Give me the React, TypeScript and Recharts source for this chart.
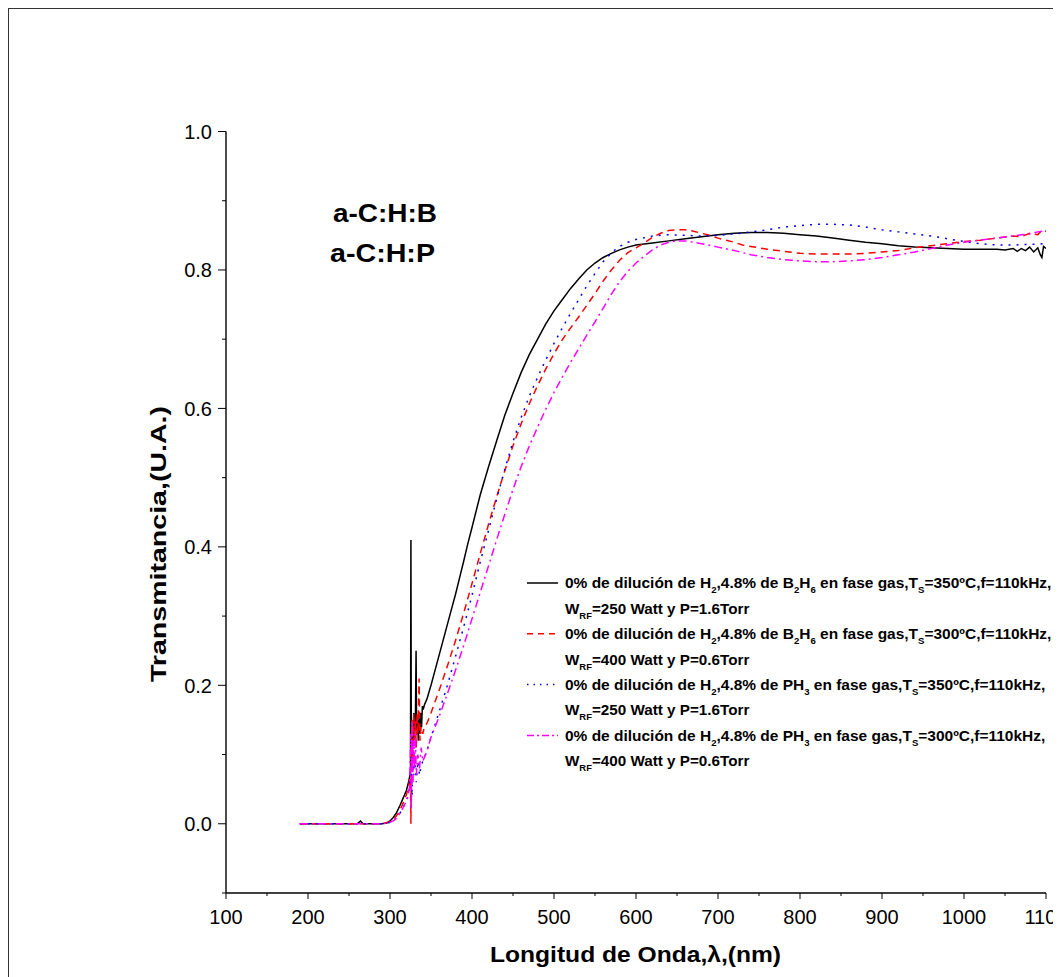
import React from 'react';
import { LineChart, Line, XAxis, YAxis, Legend, Customized } from 'recharts';

const FONT = "'Liberation Sans', Arial, Helvetica, sans-serif";

// ---- axis ticks ----
const X_TICKS = [100, 150, 200, 250, 300, 350, 400, 450, 500, 550, 600, 650, 700, 750, 800, 850, 900, 950, 1000, 1050, 1100];
const X_LABELED = [100, 200, 300, 400, 500, 600, 700, 800, 900, 1000, 1100];
const Y_TICKS = [-0.1, 0, 0.1, 0.2, 0.3, 0.4, 0.5, 0.6, 0.7, 0.8, 0.9, 1.0];
const Y_LABELED = [0, 0.2, 0.4, 0.6, 0.8, 1.0];

// ---- series (wavelength nm, transmittance) ----
const B2H6_350: [number, number][] = [
  [190, 0], [200, 0], [220, 0], [240, 0], [260, 0], [264, 0.004], [267, 0], [280, 0], [290, 0], [296, 0.001],
  [300, 0.004], [304, 0.009], [308, 0.016], [312, 0.026], [316, 0.037], [320, 0.048], [323, 0.062], [325, 0.075],
  [325.5, 0.41], [326, 0.1], [327, 0.14], [328, 0.12], [329, 0.16], [330, 0.13], [331, 0.15], [331.8, 0.25],
  [332.5, 0.13], [333.5, 0.15], [334.5, 0.12], [335.5, 0.155], [336.5, 0.13], [337.5, 0.16], [338.5, 0.14],
  [339.5, 0.17], [340.5, 0.165], [342, 0.172], [345, 0.18], [350, 0.2], [355, 0.222], [360, 0.244], [365, 0.266],
  [370, 0.288], [375, 0.31], [380, 0.332], [385, 0.356], [390, 0.38], [395, 0.405], [400, 0.428], [410, 0.475],
  [420, 0.515], [430, 0.553], [440, 0.59], [450, 0.622], [460, 0.652], [470, 0.678], [480, 0.7], [490, 0.722],
  [500, 0.741], [510, 0.757], [520, 0.773], [530, 0.787], [540, 0.8], [550, 0.81], [560, 0.818], [570, 0.824],
  [580, 0.829], [590, 0.833], [600, 0.836], [620, 0.839], [640, 0.842], [660, 0.845], [680, 0.848], [700, 0.851],
  [720, 0.853], [740, 0.854], [760, 0.854], [780, 0.853], [800, 0.851], [820, 0.849], [840, 0.846], [860, 0.843],
  [880, 0.84], [900, 0.838], [920, 0.835], [940, 0.833], [960, 0.832], [980, 0.831], [1000, 0.83], [1020, 0.83],
  [1040, 0.83], [1050, 0.829], [1060, 0.831], [1065, 0.827], [1070, 0.831], [1075, 0.828], [1080, 0.833],
  [1085, 0.826], [1090, 0.832], [1093, 0.822], [1095, 0.818], [1097, 0.834], [1100, 0.831],
];

const B2H6_300: [number, number][] = [
  [190, 0], [220, 0], [250, 0], [280, 0], [290, 0], [300, 0.003], [305, 0.007], [310, 0.015], [315, 0.027],
  [320, 0.042], [323, 0.055], [325, 0.075], [325.5, 0.0], [326, 0.1], [327, 0.15], [328, 0.09], [329, 0.16],
  [330, 0.12], [331, 0.15], [332, 0.11], [333, 0.16], [334, 0.13], [335.5, 0.21], [336.5, 0.12], [338, 0.14],
  [340, 0.13], [342, 0.14], [345, 0.145], [350, 0.16], [360, 0.193], [370, 0.228], [380, 0.265], [390, 0.305],
  [400, 0.347], [410, 0.39], [420, 0.432], [430, 0.472], [440, 0.51], [450, 0.546], [460, 0.578], [470, 0.607],
  [480, 0.633], [490, 0.657], [500, 0.679], [510, 0.699], [520, 0.716], [530, 0.732], [540, 0.749], [550, 0.766],
  [560, 0.784], [570, 0.8], [580, 0.814], [590, 0.825], [600, 0.832], [610, 0.839], [620, 0.847], [630, 0.853],
  [640, 0.857], [650, 0.858], [660, 0.858], [670, 0.856], [680, 0.853], [690, 0.85], [700, 0.846], [710, 0.843],
  [720, 0.84], [730, 0.836], [740, 0.834], [750, 0.832], [760, 0.83], [780, 0.827], [800, 0.824], [820, 0.823],
  [840, 0.823], [860, 0.823], [880, 0.824], [900, 0.826], [920, 0.828], [940, 0.832], [960, 0.835], [980, 0.838],
  [1000, 0.841], [1020, 0.843], [1040, 0.846], [1060, 0.849], [1070, 0.848], [1080, 0.853], [1090, 0.851],
  [1095, 0.857], [1100, 0.856],
];

const PH3_350: [number, number][] = [
  [190, 0], [220, 0], [250, 0], [280, 0], [290, 0], [300, 0.002], [305, 0.005], [310, 0.011], [315, 0.021],
  [320, 0.033], [322, 0.04], [324, 0.055], [326, 0.1], [327, 0.04], [328, 0.12], [329, 0.07], [330, 0.1],
  [332, 0.06], [334, 0.09], [336, 0.07], [338, 0.085], [340, 0.09], [345, 0.105], [350, 0.125], [360, 0.162],
  [370, 0.2], [380, 0.242], [390, 0.285], [400, 0.33], [410, 0.378], [420, 0.423], [430, 0.469], [440, 0.512],
  [450, 0.552], [460, 0.587], [470, 0.618], [480, 0.645], [490, 0.67], [500, 0.694], [510, 0.716], [520, 0.737],
  [530, 0.757], [540, 0.777], [550, 0.795], [560, 0.812], [570, 0.825], [580, 0.834], [590, 0.84], [600, 0.844],
  [620, 0.849], [640, 0.851], [660, 0.85], [680, 0.849], [700, 0.85], [720, 0.852], [740, 0.855], [760, 0.858],
  [780, 0.862], [800, 0.864], [820, 0.866], [840, 0.866], [860, 0.865], [880, 0.862], [900, 0.858], [920, 0.855],
  [940, 0.852], [960, 0.849], [980, 0.845], [1000, 0.841], [1020, 0.838], [1040, 0.836], [1060, 0.836],
  [1080, 0.837], [1100, 0.838],
];

const PH3_300: [number, number][] = [
  [190, 0], [220, 0], [250, 0], [280, 0], [290, 0], [300, 0.002], [305, 0.005], [310, 0.011], [315, 0.021],
  [320, 0.033], [322, 0.04], [324, 0.055], [325.5, 0.13], [326, 0.02], [327, 0.15], [328, 0.06], [329, 0.12],
  [330, 0.08], [331, 0.13], [332, 0.07], [334, 0.1], [336, 0.08], [338, 0.11], [340, 0.09], [345, 0.105],
  [350, 0.125], [360, 0.155], [370, 0.188], [380, 0.222], [390, 0.258], [400, 0.296], [410, 0.334], [420, 0.372],
  [430, 0.41], [440, 0.447], [450, 0.483], [460, 0.516], [470, 0.546], [480, 0.573], [490, 0.599], [500, 0.623],
  [510, 0.645], [520, 0.666], [530, 0.686], [540, 0.706], [550, 0.725], [560, 0.745], [570, 0.765], [580, 0.783],
  [590, 0.798], [600, 0.81], [610, 0.82], [620, 0.829], [630, 0.836], [640, 0.84], [650, 0.842], [660, 0.842],
  [670, 0.84], [680, 0.838], [700, 0.833], [720, 0.828], [740, 0.822], [760, 0.818], [780, 0.815], [800, 0.813],
  [820, 0.812], [840, 0.812], [860, 0.813], [880, 0.815], [900, 0.818], [920, 0.822], [940, 0.826], [960, 0.831],
  [980, 0.836], [1000, 0.84], [1020, 0.843], [1040, 0.846], [1060, 0.849], [1070, 0.851], [1080, 0.852],
  [1090, 0.855], [1100, 0.857],
];

const LEGEND_LINE1 = [
  '0% de dilución de H_{2},4.8% de B_{2}H_{6} en fase gas,T_{S}=350ºC,f=110kHz,',
  '0% de dilución de H_{2},4.8% de B_{2}H_{6} en fase gas,T_{S}=300ºC,f=110kHz,',
  '0% de dilución de H_{2},4.8% de PH_{3} en fase gas,T_{S}=350ºC,f=110kHz,',
  '0% de dilución de H_{2},4.8% de PH_{3} en fase gas,T_{S}=300ºC,f=110kHz,',
];
const LEGEND_LINE2 = [
  'W_{RF}=250 Watt y P=1.6Torr',
  'W_{RF}=400 Watt y P=0.6Torr',
  'W_{RF}=250 Watt y P=1.6Torr',
  'W_{RF}=400 Watt y P=0.6Torr',
];
const SERIES_DATA = [B2H6_350, B2H6_300, PH3_350, PH3_300];
const COLORS = ['#000000', '#ff0000', '#0000ff', '#ff00ff'];
const DASHES = ['', '7 5', '2 6', '8 4 2 4'];
const LEGEND_DASHES = ['', '6 5', '1.5 5', '7 3 2 3'];
const ANNOTATIONS = ['a-C:H:B', 'a-C:H:P'];
const X_TITLE = 'Longitud de Onda,λ,(nm)';
const Y_TITLE = 'Transmitancia,(U.A.)';

const toPoints = (arr: [number, number][]) => arr.map(([x, y]) => ({ x, y }));

const parseRich = (s: string) =>
  s
    .split(/(_\{[^}]*\})/)
    .filter(Boolean)
    .map((p) => (p.startsWith('_{') ? { t: p.slice(2, -1), sub: true } : { t: p, sub: false }));

const RichText = ({ x, y, text, size, sx }: { x: number; y: number; text: string; size: number; sx: number }) => {
  const segs = parseRich(text);
  let prevSub = false;
  return (
    <g transform={`translate(${x} ${y}) scale(${sx} 1)`}>
      <text x={0} y={0} fontSize={size} fontWeight="bold" fontFamily={FONT} fill="#000">
        {segs.map((s, i) => {
          let dy = 0;
          if (s.sub && !prevSub) dy = 5;
          if (!s.sub && prevSub) dy = -5;
          prevSub = s.sub;
          return (
            <tspan key={i} dy={dy} fontSize={s.sub ? size * 0.62 : size}>
              {s.t}
            </tspan>
          );
        })}
      </text>
    </g>
  );
};

const XTick = (props: any) => {
  const { x, y, payload } = props;
  const v = payload.value;
  const major = X_LABELED.includes(v);
  return (
    <g>
      <line x1={x} x2={x} y1={y} y2={y + (major ? 6 : 3)} stroke="#000" strokeWidth={1} />
      {major && (
        <text x={x} y={y + 30.5} textAnchor="middle" fontSize={20} fontFamily={FONT} fill="#000">
          {v}
        </text>
      )}
    </g>
  );
};

const YTick = (props: any) => {
  const { x, y, payload } = props;
  const v = payload.value;
  const major = Y_LABELED.some((m) => Math.abs(m - v) < 1e-6);
  return (
    <g>
      <line x1={x - (major ? 8 : 4)} x2={x} y1={y} y2={y} stroke="#000" strokeWidth={1} />
      {major && (
        <text x={x - 14} y={y} dy="0.36em" textAnchor="end" fontSize={20} fontFamily={FONT} fill="#000">
          {v.toFixed(1)}
        </text>
      )}
    </g>
  );
};

const LegendBox = () => {
  const rowH = 25.4;
  return (
    <svg width={545} height={210} style={{ overflow: 'visible', display: 'block' }}>
      {LEGEND_LINE1.map((l1, i) => {
        const cy = 18 + rowH * 2 * i;
        return (
          <g key={i}>
            <line
              x1={12}
              x2={43}
              y1={cy}
              y2={cy}
              stroke={COLORS[i]}
              strokeWidth={1.5}
              strokeDasharray={LEGEND_DASHES[i] || undefined}
            />
            <RichText x={50} y={cy + 5.4} text={l1} size={15} sx={1.032} />
            <RichText x={50} y={cy + rowH + 5.4} text={LEGEND_LINE2[i]} size={15} sx={1.015} />
          </g>
        );
      })}
    </svg>
  );
};

const Titles = () => (
  <g>
    <text
      x={324}
      y={213}
      fontSize={26}
      fontWeight="bold"
      fontFamily={FONT}
      fill="#000"
      textLength={104}
      lengthAdjust="spacingAndGlyphs"
    >
      {ANNOTATIONS[0]}
    </text>
    <text
      x={321}
      y={253}
      fontSize={26}
      fontWeight="bold"
      fontFamily={FONT}
      fill="#000"
      textLength={105}
      lengthAdjust="spacingAndGlyphs"
    >
      {ANNOTATIONS[1]}
    </text>
    <text
      x={626.5}
      y={953}
      textAnchor="middle"
      fontSize={22}
      fontWeight="bold"
      fontFamily={FONT}
      fill="#000"
      textLength={291}
      lengthAdjust="spacingAndGlyphs"
    >
      {X_TITLE}
    </text>
    <text
      x={157}
      y={535}
      textAnchor="middle"
      fontSize={22.5}
      fontWeight="bold"
      fontFamily={FONT}
      fill="#000"
      textLength={276}
      lengthAdjust="spacingAndGlyphs"
      transform="rotate(-90 157 535)"
    >
      {Y_TITLE}
    </text>
  </g>
);

export default function App() {
  return (
    <div
      style={{
        width: 1050,
        height: 1000,
        border: '1px solid #333',
        boxSizing: 'border-box',
        overflow: 'hidden',
        background: '#fff',
        position: 'relative',
      }}
    >
      <LineChart width={1100} height={980} margin={{ top: 122.5, right: 63, bottom: 36, left: 157 }}>
        <XAxis
          type="number"
          dataKey="x"
          domain={[100, 1100]}
          ticks={X_TICKS}
          interval={0}
          tickSize={0}
          tickMargin={0}
          tickLine={false}
          tick={<XTick />}
          axisLine={{ stroke: '#000', strokeWidth: 1.4 }}
          height={60}
          allowDataOverflow
        />
        <YAxis
          type="number"
          domain={[-0.1, 1.0]}
          ticks={Y_TICKS}
          interval={0}
          tickSize={0}
          tickMargin={0}
          tickLine={false}
          tick={<YTick />}
          axisLine={{ stroke: '#000', strokeWidth: 1.4 }}
          width={60}
          allowDataOverflow
        />
        {SERIES_DATA.map((d, i) => (
          <Line
            key={i}
            data={toPoints(d)}
            dataKey="y"
            type="linear"
            stroke={COLORS[i]}
            strokeWidth={1.5}
            strokeDasharray={DASHES[i] || undefined}
            dot={false}
            activeDot={false}
            isAnimationActive={false}
            name={LEGEND_LINE1[i]}
          />
        ))}
        <Legend
          layout="horizontal"
          verticalAlign="middle"
          align="center"
          content={<LegendBox />}
          wrapperStyle={{ left: 506, top: 556, width: 545, height: 210 }}
        />
        <Customized component={Titles} />
      </LineChart>
    </div>
  );
}
